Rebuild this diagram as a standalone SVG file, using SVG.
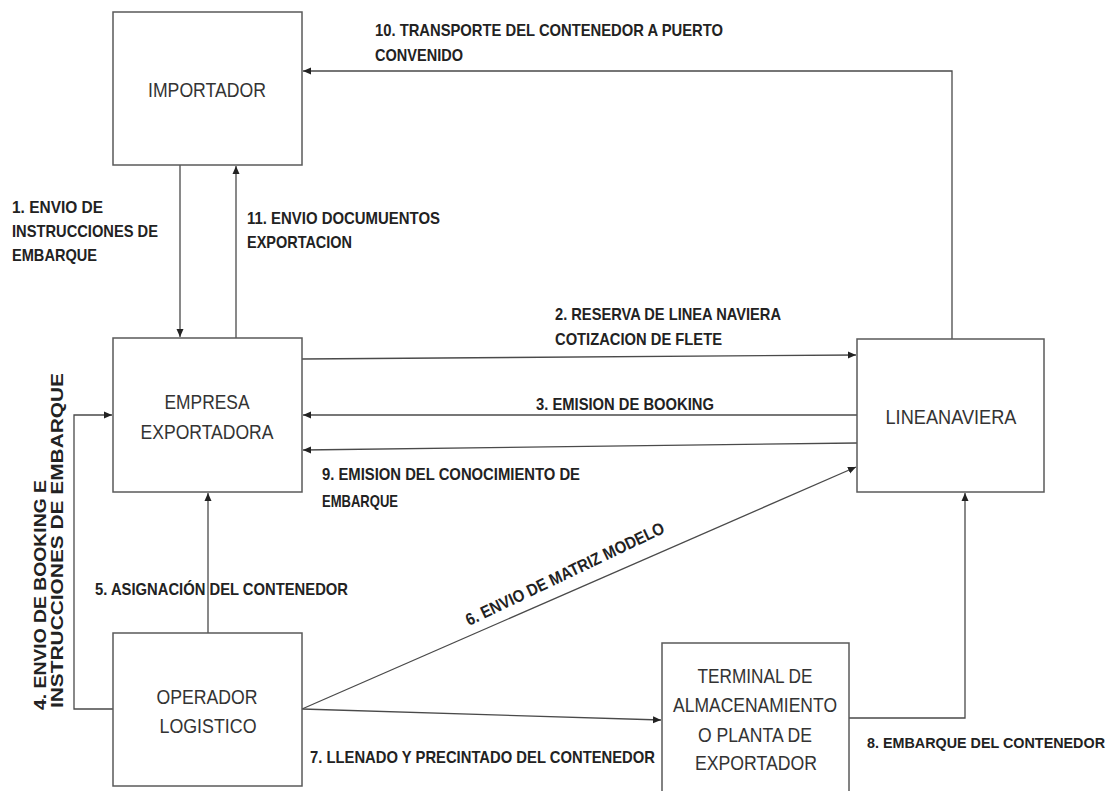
<svg xmlns="http://www.w3.org/2000/svg" width="1120" height="791" viewBox="0 0 1120 791">
  <style>
    .box { fill: #ffffff; stroke: #5a5a5a; stroke-width: 1.5; }
    .name { font-family: "Liberation Sans Narrow", "Liberation Sans", Arial, sans-serif; font-size: 21px; fill: #333333; text-anchor: middle; }
    .lbl { font-family: "Liberation Sans Narrow", "Liberation Sans", Arial, sans-serif; font-size: 17px; font-weight: bold; fill: #222222; }
    .lbl.edge { font-size: 14px; }
    .lblw { font-family: "Liberation Sans", Arial, sans-serif; font-size: 16px; font-weight: bold; fill: #222222; }
    .link { fill: none; stroke: #4a4a4a; stroke-width: 1.3; marker-end: url(#arrow); }
  </style>
  <defs>
    <marker id="arrow" markerUnits="userSpaceOnUse" markerWidth="9" markerHeight="8" refX="8" refY="4" orient="auto">
      <path d="M0,0.5 L8,4 L0,7.5 z" fill="#222222"/>
    </marker>
  </defs>
  <rect width="1120" height="791" fill="#ffffff"/>

  <!-- connectors -->
  <g id="connectors">
    <polyline id="c10" class="link" points="952,339 952,71 303,71"/>
    <line id="c1" class="link" x1="180" y1="165" x2="180" y2="337"/>
    <line id="c11" class="link" x1="236" y1="338" x2="236" y2="166"/>
    <line id="c2" class="link" x1="302" y1="359" x2="856" y2="355"/>
    <line id="c3" class="link" x1="857" y1="415" x2="303" y2="415"/>
    <line id="c9" class="link" x1="857" y1="443" x2="303" y2="450"/>
    <polyline id="c4" class="link" points="113,709 74,709 74,415 112,415"/>
    <line id="c5" class="link" x1="208" y1="633" x2="208" y2="493"/>
    <line id="c6" class="link" x1="302" y1="709" x2="856" y2="467"/>
    <line id="c7" class="link" x1="302" y1="709" x2="661" y2="720"/>
    <polyline id="c8" class="link" points="849,718 965,718 965,493"/>
  </g>

  <!-- connector labels -->
  <g id="labels">
    <text class="lbl" x="375" y="36" textLength="348" lengthAdjust="spacingAndGlyphs">10. TRANSPORTE DEL CONTENEDOR A PUERTO</text>
    <text class="lbl" x="375" y="61" textLength="88" lengthAdjust="spacingAndGlyphs">CONVENIDO</text>
    <text class="lbl" x="12" y="213" textLength="91" lengthAdjust="spacingAndGlyphs">1.  ENVIO DE</text>
    <text class="lbl" x="12" y="237" textLength="146" lengthAdjust="spacingAndGlyphs">INSTRUCCIONES DE</text>
    <text class="lbl" x="12" y="261" textLength="85" lengthAdjust="spacingAndGlyphs">EMBARQUE</text>
    <text class="lbl" x="247" y="224" textLength="193" lengthAdjust="spacingAndGlyphs">11. ENVIO DOCUMUENTOS</text>
    <text class="lbl" x="247" y="248" textLength="105" lengthAdjust="spacingAndGlyphs">EXPORTACION</text>
    <text class="lbl" x="555" y="320" textLength="226" lengthAdjust="spacingAndGlyphs">2. RESERVA DE LINEA NAVIERA</text>
    <text class="lbl" x="555" y="345" textLength="167" lengthAdjust="spacingAndGlyphs">COTIZACION DE FLETE</text>
    <text class="lbl" x="536" y="410" textLength="178" lengthAdjust="spacingAndGlyphs">3. EMISION DE BOOKING</text>
    <text class="lbl" x="322" y="480" textLength="258" lengthAdjust="spacingAndGlyphs">9. EMISION DEL CONOCIMIENTO DE</text>
    <text class="lbl" x="322" y="507" textLength="76" lengthAdjust="spacingAndGlyphs">EMBARQUE</text>
    <text class="lbl" x="95" y="595" textLength="253" lengthAdjust="spacingAndGlyphs">5. ASIGNACIÓN DEL CONTENEDOR</text>
    <text class="lbl" x="310" y="763" textLength="345" lengthAdjust="spacingAndGlyphs">7. LLENADO Y PRECINTADO DEL CONTENEDOR</text>
    <text class="lbl edge" x="867" y="748" textLength="238" lengthAdjust="spacingAndGlyphs">8. EMBARQUE DEL CONTENEDOR</text>
    <text class="lbl" transform="translate(469,626) rotate(-25.5)" textLength="218" lengthAdjust="spacingAndGlyphs">6. ENVIO DE MATRIZ MODELO</text>
    <text class="lblw" transform="translate(46,710) rotate(-90)" textLength="230" lengthAdjust="spacingAndGlyphs">4. ENVIO DE BOOKING E</text>
    <text class="lblw" transform="translate(63,708) rotate(-90)" textLength="335" lengthAdjust="spacingAndGlyphs">INSTRUCCIONES DE EMBARQUE</text>
  </g>

  <!-- nodes -->
  <g id="importador">
    <rect class="box" x="113" y="12" width="189" height="153"/>
    <text class="name" x="207" y="97" textLength="118" lengthAdjust="spacingAndGlyphs">IMPORTADOR</text>
  </g>
  <g id="empresa-exportadora">
    <rect class="box" x="113" y="338" width="189" height="154"/>
    <text class="name" x="207" y="409" textLength="85" lengthAdjust="spacingAndGlyphs">EMPRESA</text>
    <text class="name" x="207" y="439" textLength="133" lengthAdjust="spacingAndGlyphs">EXPORTADORA</text>
  </g>
  <g id="linea-naviera">
    <rect class="box" x="857" y="339" width="187" height="153"/>
    <text class="name" x="951" y="424" textLength="131" lengthAdjust="spacingAndGlyphs">LINEANAVIERA</text>
  </g>
  <g id="operador-logistico">
    <rect class="box" x="113" y="633" width="189" height="153"/>
    <text class="name" x="207" y="704" textLength="101" lengthAdjust="spacingAndGlyphs">OPERADOR</text>
    <text class="name" x="208" y="733" textLength="97" lengthAdjust="spacingAndGlyphs">LOGISTICO</text>
  </g>
  <g id="terminal">
    <rect class="box" x="662" y="643" width="187" height="160"/>
    <text class="name" x="755" y="683" textLength="115" lengthAdjust="spacingAndGlyphs">TERMINAL DE</text>
    <text class="name" x="755" y="712" textLength="164" lengthAdjust="spacingAndGlyphs">ALMACENAMIENTO</text>
    <text class="name" x="755" y="742" textLength="114" lengthAdjust="spacingAndGlyphs">O PLANTA DE</text>
    <text class="name" x="756" y="770" textLength="122" lengthAdjust="spacingAndGlyphs">EXPORTADOR</text>
  </g>
</svg>
